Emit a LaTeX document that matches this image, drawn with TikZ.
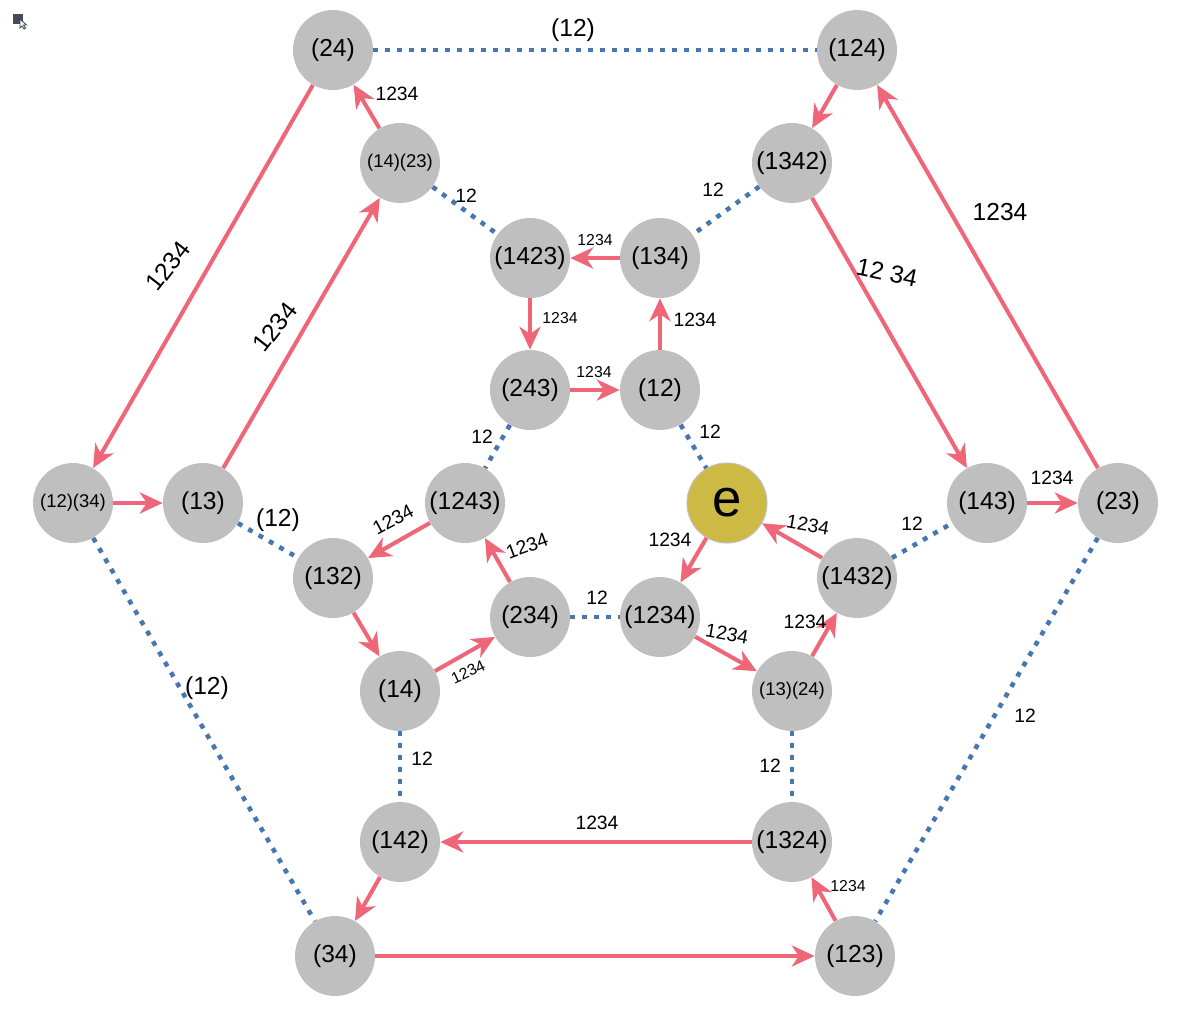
\documentclass[tikz,border=0pt]{standalone}
\usepackage{fontspec}
\setmainfont{Liberation Sans}
\usetikzlibrary{arrows.meta}
\definecolor{nodegray}{RGB}{191,191,191}
\definecolor{eyellow}{RGB}{205,186,69}
\definecolor{redarrow}{RGB}{238,102,120}
\definecolor{bluedot}{RGB}{70,120,175}
\definecolor{icongray}{RGB}{70,75,90}
\begin{document}
\begin{tikzpicture}[x=0.02cm,y=-0.02cm,
 vtx/.style={circle,fill=nodegray,minimum size=1.6cm,inner sep=0pt,font=\fontsize{14}{16}\selectfont},
 vtxs/.style={vtx,font=\fontsize{10.5}{12}\selectfont},
 idv/.style={vtx,fill=eyellow,draw=nodegray,line width=0.6pt,font=\fontsize{30}{32}\selectfont},
 rarr/.style={draw=redarrow,line width=2.3pt,-{Stealth[length=13pt,width=12pt,inset=4pt]}},
 bdot/.style={draw=bluedot,line width=2.6pt,dash pattern=on 2.8pt off 4pt},
 lab/.style={font=\fontsize{9}{10}\selectfont,inner sep=0.5pt},
 labm/.style={font=\fontsize{11}{12}\selectfont,inner sep=0.5pt},
 labl/.style={font=\fontsize{14}{15}\selectfont,inner sep=0.5pt},
]
\useasboundingbox (0,0) rectangle (1184,1019);
% small icon
\fill[icongray] (13,14) rectangle (23,24);
\filldraw[fill=white,draw=icongray,line width=0.5pt] (20,19) -- (20,28) -- (22,26) -- (24,29) -- (25.5,28) -- (23.5,25) -- (26.5,25) -- cycle;

% nodes
\node[vtx] (n24) at (333,50) {(24)};
\node[vtx] (n124) at (857,50) {(124)};
\node[vtxs] (n14n23) at (400,163) {(14)(23)};
\node[vtx] (n1342) at (792,163) {(1342)};
\node[vtx] (n1423) at (530,258) {(1423)};
\node[vtx] (n134) at (660,258) {(134)};
\node[vtx] (n243) at (530,390) {(243)};
\node[vtx] (n12) at (660,390) {(12)};
\node[vtxs] (n12n34) at (73,503) {(12)(34)};
\node[vtx] (n13) at (203,503) {(13)};
\node[vtx] (n1243) at (465,503) {(1243)};
\node[idv] (e) at (727,503) {e};
\node[vtx] (n143) at (987,503) {(143)};
\node[vtx] (n23) at (1118,503) {(23)};
\node[vtx] (n132) at (333,578) {(132)};
\node[vtx] (n1432) at (857,578) {(1432)};
\node[vtx] (n234) at (530,617) {(234)};
\node[vtx] (n1234) at (660,617) {(1234)};
\node[vtx] (n14) at (400,691) {(14)};
\node[vtxs] (n13n24) at (792,691) {(13)(24)};
\node[vtx] (n142) at (400,842) {(142)};
\node[vtx] (n1324) at (792,842) {(1324)};
\node[vtx] (n34) at (335,956) {(34)};
\node[vtx] (n123) at (855,956) {(123)};

% blue dotted edges
\draw[bdot] (n24) -- (n124);
\draw[bdot] (n14n23) -- (n1423);
\draw[bdot] (n1342) -- (n134);
\draw[bdot] (n12) -- (e);
\draw[bdot] (n243) -- (n1243);
\draw[bdot] (n13) -- (n132);
\draw[bdot] (n234) -- (n1234);
\draw[bdot] (n1432) -- (n143);
\draw[bdot] (n14) -- (n142);
\draw[bdot] (n13n24) -- (n1324);
\draw[bdot] (n12n34) -- (n34);
\draw[bdot] (n23) -- (n123);

% red arrows
\draw[rarr] (n24) -- (n12n34);
\draw[rarr] (n14n23) -- (n24);
\draw[rarr] (n13) -- (n14n23);
\draw[rarr] (n12n34) -- (n13);
\draw[rarr] (n124) -- (n1342);
\draw[rarr] (n1342) -- (n143);
\draw[rarr] (n23) -- (n124);
\draw[rarr] (n143) -- (n23);
\draw[rarr] (n134) -- (n1423);
\draw[rarr] (n1423) -- (n243);
\draw[rarr] (n243) -- (n12);
\draw[rarr] (n12) -- (n134);
\draw[rarr] (n1243) -- (n132);
\draw[rarr] (n132) -- (n14);
\draw[rarr] (n14) -- (n234);
\draw[rarr] (n234) -- (n1243);
\draw[rarr] (e) -- (n1234);
\draw[rarr] (n1234) -- (n13n24);
\draw[rarr] (n13n24) -- (n1432);
\draw[rarr] (n1432) -- (e);
\draw[rarr] (n1324) -- (n142);
\draw[rarr] (n142) -- (n34);
\draw[rarr] (n34) -- (n123);
\draw[rarr] (n123) -- (n1324);

% labels
\node[labl] (l1) at (573,30) {(12)};
\node[labm] (l2) at (397,94) {1234};
\node[labl,rotate=52] (l3) at (168,266) {1234};
\node[labl,rotate=52] (l4) at (275,327) {1234};
\node[labm] (l5) at (466,196) {12};
\node[labm] (l6) at (713,190) {12};
\node[lab] (l7) at (595,240) {1234};
\node[lab] (l8) at (560,318) {1234};
\node[labm] (l9) at (695,320) {1234};
\node[lab] (l10) at (594,372) {1234};
\node[labm] (l11) at (482,437) {12};
\node[labm] (l12) at (710,432) {12};
\node[labl,rotate=-12] (l13) at (887,273) {12 34};
\node[labl] (l14) at (1000,212) {1234};
\node[labm] (l15) at (1052,478) {1234};
\node[labm] (l16) at (912,524) {12};
\node[labl] (l17) at (278,520) {(12)};
\node[labm,rotate=28] (l18) at (393,520) {1234};
\node[labm,rotate=20] (l19) at (527,546) {1234};
\node[lab,rotate=25] (l20) at (468,672) {1234};
\node[labm] (l21) at (597,598) {12};
\node[labm] (l22) at (670,540) {1234};
\node[labm,rotate=-10] (l23) at (808,525) {1234};
\node[labm,rotate=-10] (l24) at (727,634) {1234};
\node[labm] (l25) at (805,622) {1234};
\node[labl] (l26) at (207,688) {(12)};
\node[labm] (l27) at (422,759) {12};
\node[labm] (l28) at (770,766) {12};
\node[labm] (l29) at (1025,716) {12};
\node[labm] (l30) at (597,823) {1234};
\node[lab] (l31) at (848,886) {1234};
\end{tikzpicture}
\end{document}
